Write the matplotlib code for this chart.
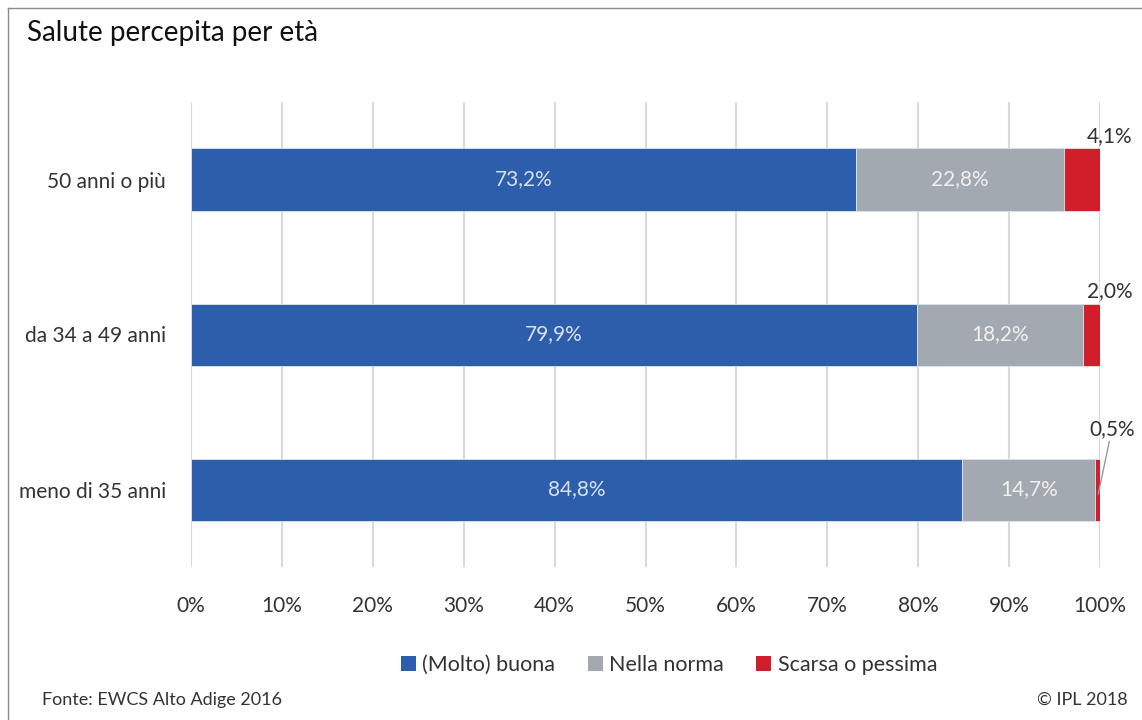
import matplotlib
matplotlib.use('Agg')
import matplotlib.pyplot as plt
from matplotlib.lines import Line2D
from matplotlib.patches import Patch

plt.rcParams['font.family'] = ['Lato', 'DejaVu Sans']

# categories from bottom to top
categories = ['meno di 35 anni', 'da 34 a 49 anni', '50 anni o più']
buona = [84.8, 79.9, 73.2]
norma = [14.7, 18.2, 22.8]
scarsa = [0.5, 2.0, 4.1]
series_names = ['(Molto) buona', 'Nella norma', 'Scarsa o pessima']
colors = ['#2c5eab', '#a3a9b1', '#d01f2b']
xticks = [0, 10, 20, 30, 40, 50, 60, 70, 80, 90, 100]


def fmt(v):
    return ('%.1f%%' % v).replace('.', ',')


fig = plt.figure(figsize=(11.42, 7.2), dpi=100)
ax = fig.add_axes([191 / 1142, 1 - 567 / 720, 909 / 1142, 465 / 720])

ypos = list(range(len(categories)))
h = 0.40
left = [0] * len(categories)
for vals, col in zip([buona, norma, scarsa], colors):
    ax.barh(ypos, vals, height=h, left=left, color=col,
            edgecolor='#dfe3ea', linewidth=0.6, zorder=3)
    left = [l + v for l, v in zip(left, vals)]

# labels inside the bars
for i in ypos:
    ax.text(buona[i] / 2, i, fmt(buona[i]), ha='center', va='center',
            color='#d9e0ee', fontsize=15, zorder=4)
    ax.text(buona[i] + norma[i] / 2, i, fmt(norma[i]), ha='center', va='center',
            color='#f0f0f0', fontsize=15, zorder=4)

# small segment labels outside, above the bar end
for i in ypos:
    if i == 0:
        ax.annotate(fmt(scarsa[i]), xy=(99.8, i - 0.03), xytext=(10, 40),
                    textcoords='offset points', ha='center', va='bottom',
                    fontsize=15, color='#333333',
                    arrowprops=dict(arrowstyle='-', color='#999999', lw=1,
                                    shrinkA=0, shrinkB=0))
    else:
        ax.annotate(fmt(scarsa[i]), xy=(100, i + h / 2), xytext=(7, 2),
                    textcoords='offset points', ha='center', va='bottom',
                    fontsize=15, color='#333333')

ax.set_xlim(0, 100)
ax.set_ylim(-0.5, 2.5)
ax.set_xticks(xticks)
ax.set_xticklabels(['%d%%' % t for t in xticks])
ax.set_yticks(ypos)
ax.set_yticklabels(categories)
ax.tick_params(axis='both', length=0, labelsize=15, labelcolor='#333333')
ax.tick_params(axis='x', pad=21)
ax.tick_params(axis='y', pad=18)
ax.grid(axis='x', color='#d9d9d9', linewidth=1.5, zorder=0)
for s in ax.spines.values():
    s.set_visible(False)

# title and frame
fig.text(27 / 1142, 1 - 33 / 720, 'Salute percepita per età', fontsize=20,
         va='center', ha='left', color='#111111')
fig.add_artist(Line2D([8 / 1142, 8 / 1142], [0, 1 - 8 / 720], color='#8a8a8a', lw=1))
fig.add_artist(Line2D([8 / 1142, 1], [1 - 8 / 720, 1 - 8 / 720], color='#8a8a8a', lw=1))

# legend
handles = [Patch(facecolor=c, edgecolor='none') for c in colors]
leg = fig.legend(handles, series_names, loc='center', ncol=3,
                 bbox_to_anchor=(669 / 1142, 1 - 665 / 720), frameon=False,
                 fontsize=15.5, handlelength=0.7, handleheight=0.7,
                 handletextpad=0.3, columnspacing=1.5)
for t in leg.get_texts():
    t.set_color('#333333')

# footer
fig.text(42 / 1142, 1 - 700 / 720, 'Fonte: EWCS Alto Adige 2016', fontsize=13,
         va='center', ha='left', color='#333333')
fig.text(1128 / 1142, 1 - 700 / 720, '© IPL 2018', fontsize=13,
         va='center', ha='right', color='#333333')

plt.savefig('out.png', dpi=100)
